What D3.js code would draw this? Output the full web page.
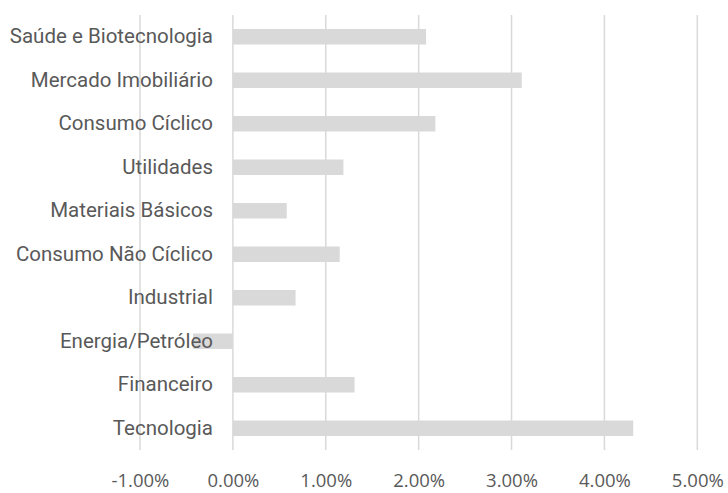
<!DOCTYPE html>
<html><head><meta charset="utf-8">
<script src="https://cdn.jsdelivr.net/npm/d3@7"></script>
<style>body{margin:0;background:#fff}</style>
</head><body>
<svg id="c" width="728" height="493"></svg>
<script>
const categories = ["Saúde e Biotecnologia","Mercado Imobiliário","Consumo Cíclico","Utilidades","Materiais Básicos","Consumo Não Cíclico","Industrial","Energia/Petróleo","Financeiro","Tecnologia"];
const values = [0.0208,0.0311,0.0218,0.0119,0.0058,0.0115,0.00675,-0.0043,0.0131,0.0431];
const tickValues = [-0.01,0,0.01,0.02,0.03,0.04,0.05];

const svg = d3.select("#c");
const x = d3.scaleLinear().domain([-0.01,0.05]).range([140,697.3]);
const y = d3.scaleBand().domain(categories).range([15,450]).paddingInner(0.644).paddingOuter(0.322);

svg.append("g").selectAll("line").data(tickValues).join("line")
  .attr("x1",d=>x(d)).attr("x2",d=>x(d)).attr("y1",15).attr("y2",450)
  .attr("stroke","#d9d9d9").attr("stroke-width",1.5);

svg.append("g").selectAll("rect").data(values).join("rect")
  .attr("x",d=>Math.min(x(0),x(d))).attr("width",d=>Math.abs(x(d)-x(0)))
  .attr("y",(d,i)=>y(categories[i])).attr("height",y.bandwidth())
  .attr("fill","#d9d9d9");

const fmt = d => d3.format(".2%")(d).replace("\u2212","-");
const xa = svg.append("g").attr("transform","translate(0,450)")
  .call(d3.axisBottom(x).tickValues(tickValues).tickFormat(fmt).tickSize(0).tickPadding(24));
xa.select(".domain").remove();
xa.selectAll("text").attr("font-family","'Open Sans', sans-serif").attr("font-size","18.5px").attr("fill","#595959");

const ya = svg.append("g").attr("transform","translate(213,0)")
  .call(d3.axisLeft(y).tickSize(0).tickPadding(0));
ya.select(".domain").remove();
ya.selectAll("text").attr("font-family","'Roboto', sans-serif").attr("font-size","20.5px").attr("fill","#595959");
</script>
</body></html>
